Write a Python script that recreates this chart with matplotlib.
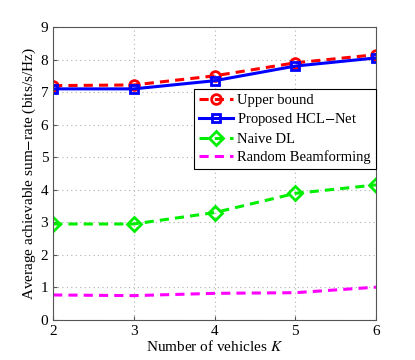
import matplotlib
matplotlib.use("Agg")
import matplotlib.pyplot as plt

K = [2, 3, 4, 5, 6]
upper_bound = [7.2, 7.22, 7.5, 7.9, 8.15]
hcl_net = [7.1, 7.1, 7.35, 7.8, 8.05]
naive_dl = [2.95, 2.95, 3.3, 3.89, 4.15]
random_bf = [0.77, 0.75, 0.82, 0.84, 1.01]

plt.rcParams['font.family'] = ['Liberation Serif', 'DejaVu Serif']
plt.rcParams['mathtext.fontset'] = 'stix'

fig = plt.figure(figsize=(4.15, 3.6), dpi=100)
ax = fig.add_axes([0.128, 0.111, 0.778, 0.814])

ax.plot(K, upper_bound, color='red', linestyle='--', linewidth=2.2, marker='o',
        markersize=7, markerfacecolor='none', markeredgewidth=2, label='Upper bound', dashes=(3, 2))
ax.plot(K, hcl_net, color='blue', linestyle='-', linewidth=2.2, marker='s',
        markersize=6, markerfacecolor='none', markeredgewidth=2, label='Proposed HCL$-$Net')
ax.plot(K, naive_dl, color='#00ee00', linestyle='--', linewidth=2.2, marker='D',
        markersize=7, markerfacecolor='none', markeredgewidth=2, label='Naive DL', dashes=(3, 2))
ax.plot(K, random_bf, color='magenta', linestyle='--', linewidth=2.2,
        label='Random Beamforming', dashes=(3, 2))

ax.set_xlim(2, 6)
ax.set_ylim(0, 9)
ax.set_xticks(K)
ax.set_yticks(range(0, 10))
ax.grid(True, linestyle=(0, (1, 3)), color='#b0b0b0', linewidth=0.8)
ax.tick_params(direction='in', labelsize=11, length=3, color='#555555')
for s in ax.spines.values():
    s.set_color('#555555')
ax.set_xlabel('Number of vehicles $K$', fontsize=11, labelpad=1)
ax.set_ylabel('Average achievable sum$-$rate (bits/s/Hz)', fontsize=11, labelpad=2)

leg = ax.legend(loc='upper right', bbox_to_anchor=(1.0, 0.79), fontsize=10.5,
                frameon=True, fancybox=False, edgecolor='black', framealpha=1,
                handlelength=2.3, borderpad=0.35, labelspacing=0.3, handletextpad=0.3,
                borderaxespad=0)
leg.get_frame().set_linewidth(0.8)

fig.savefig('out.png', dpi=100)
